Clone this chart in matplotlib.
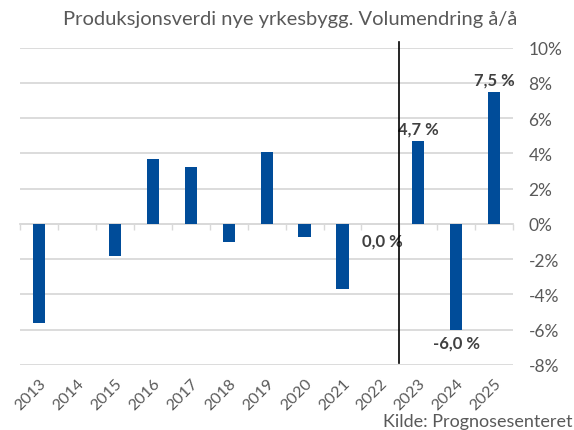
import numpy as np
import matplotlib.pyplot as plt

plt.rcParams['font.family'] = ['Lato', 'DejaVu Sans']

years = ['2013', '2014', '2015', '2016', '2017', '2018', '2019',
         '2020', '2021', '2022', '2023', '2024', '2025']
change = [-5.6, 0.0, -1.8, 3.7, 3.25, -1.05, 4.1, -0.75, -3.7, 0.0, 4.7, -6.0, 7.5]
labelled = ['2022', '2023', '2024', '2025']  # years with value labels
forecast_from = '2023'

bar_color = '#004c99'
text_color = '#595959'
grid_color = '#d9d9d9'
ymin, ymax = -8, 10

fig = plt.figure(figsize=(5.74, 4.31), dpi=100)
ax = fig.add_axes([0.035, 0.151, 0.859, 0.736])

x = np.arange(len(years))
ax.bar(x, change, width=0.32, color=bar_color, zorder=3)

ax.set_ylim(ymin, ymax)
ax.set_xlim(-0.5, len(years) - 0.5)
ax.set_yticks(np.arange(ymin, ymax + 1, 2))
ax.yaxis.tick_right()
ax.set_yticklabels([f'{v}%' for v in range(ymin, ymax + 1, 2)])
ax.tick_params(axis='y', length=0, pad=11, labelsize=12.5, labelcolor=text_color)
ax.grid(axis='y', color=grid_color, linewidth=1.3, zorder=0)

ax.set_xticks(x)
ax.set_xticklabels(years, rotation=45, ha='right', rotation_mode='anchor')
ax.tick_params(axis='x', length=0, pad=8, labelsize=11.5, labelcolor=text_color)

for side in ['top', 'right', 'left', 'bottom']:
    ax.spines[side].set_visible(False)

# zero line with category separators
zero_loc = (0 - ymin) / (ymax - ymin)
sec = ax.secondary_xaxis(zero_loc)
sec.set_xticks(np.arange(-0.5, len(years), 1.0))
sec.set_xticklabels([])
sec.tick_params(axis='x', length=4, width=1, color=grid_color, direction='out')
sec.spines['bottom'].set_color(grid_color)
sec.spines['bottom'].set_linewidth(1.3)

# value labels
for xi, yr, v in zip(x, years, change):
    if yr not in labelled:
        continue
    txt = f'{v:.1f} %'.replace('.', ',')
    kw = dict(ha='center', fontsize=12, fontweight='bold', color='#404040', zorder=4)
    if v > 0:
        ax.text(xi, v + 0.25, txt, va='bottom', **kw)
    elif v < 0:
        ax.text(xi, v - 0.3, txt, va='top', **kw)
    else:
        ax.text(xi + 0.05, v - 0.5, txt, va='top', **kw)

# forecast divider
split = years.index(forecast_from) - 0.5
ax.plot([split, split], [ymin + 0.1, ymax + 0.35], color='black',
        linewidth=1.2, clip_on=False, zorder=5)

fig.text(0.505, 0.955, 'Produksjonsverdi nye yrkesbygg. Volumendring å/å',
         ha='center', va='center', fontsize=14.5, color=text_color)
fig.text(0.998, 0.02, 'Kilde: Prognosesenteret', ha='right', va='center',
         fontsize=13, color=text_color)

fig.savefig('out.png', dpi=100)
